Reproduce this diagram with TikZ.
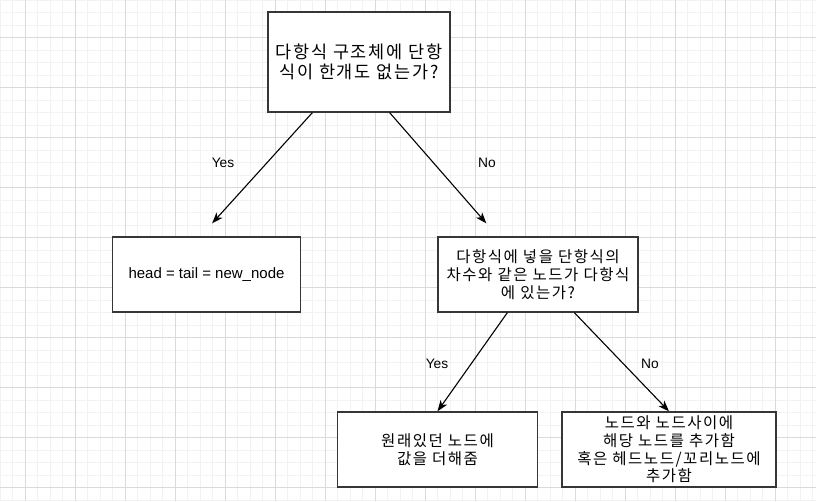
\documentclass[tikz,border=0pt]{standalone}
\usepackage{fontspec}
\setmainfont{Liberation Sans}
\newfontfamily\kr[LetterSpace=10]{Noto Sans CJK KR}
\usetikzlibrary{arrows.meta}
\definecolor{gridminor}{HTML}{F2F2F2}
\definecolor{gridmajor}{HTML}{DADADA}
\definecolor{boxline}{HTML}{363636}
\begin{document}
\begin{tikzpicture}[x=1pt, y=-1pt]
        % Common Styles
        \tikzset{question/.style={draw=boxline, line width=1.3pt, fill=white, rectangle, inner sep=0pt, align=center}}
        \tikzset{result/.style={question}}
        \tikzset{flow/.style={-{Stealth[length=11pt, width=8pt, inset=3pt]}, line width=1.1pt}}
        \tikzset{answer/.style={font=\fontsize{13.75}{16}\selectfont, inner sep=0pt}}

        % Background grid
        \fill[white] (0, 0) rectangle (816, 501);
        \useasboundingbox (0, 0) rectangle (816, 501);
        \foreach \gx in {0, 12.5, ..., 816} {\draw[gridminor, line width=0.8pt] (\gx, 0) -- (\gx, 501);}
        \foreach \gy in {0, 12.5, ..., 501} {\draw[gridminor, line width=0.8pt] (0, \gy) -- (816, \gy);}
        \foreach \gx in {25, 75, ..., 816} {\draw[gridmajor, line width=0.8pt] (\gx, 0) -- (\gx, 501);}
        \foreach \gy in {37.5, 87.5, ..., 501} {\draw[gridmajor, line width=0.8pt] (0, \gy) -- (816, \gy);}

        % 1. First question
        \node[question, minimum width=182pt, minimum height=100pt, font=\kr\fontsize{17.5}{20.5}\selectfont] (q1) at (359, 62) {다항식 구조체에 단항\\식이 한개도 없는가?};

        % 2. Empty list
        \node[result, minimum width=187.5pt, minimum height=75pt, font=\fontsize{15}{18}\selectfont] (r1) at (206.5, 274.5) {head = tail = new\_node};

        % 3. Second question
        \node[question, minimum width=200pt, minimum height=75pt, font=\kr\fontsize{15.5}{18.3}\selectfont] (q2) at (538, 274.5) {다항식에 넣을 단항식의\\차수와 같은 노드가 다항식\\에 있는가?};

        % 4. Add to existing node
        \node[result, minimum width=200pt, minimum height=75pt, font=\kr\fontsize{15.5}{18.3}\selectfont] (r2) at (437.5, 449.5) {원래있던 노드에\\값을 더해줌};

        % 5. Insert a new node
        \node[result, minimum width=214pt, minimum height=75pt, font=\kr\fontsize{15.5}{17.7}\selectfont] (r3) at (669, 449.5) {노드와 노드사이에\\해당 노드를 추가함\\혹은 헤드노드/꼬리노드에\\추가함};

        % Connectors
        \draw[flow] ([xshift=45pt]q1.south west) -- ([xshift=100pt, yshift=13pt]r1.north west);
        \draw[flow] ([xshift=-61pt]q1.south east) -- ([xshift=49pt, yshift=13pt]q2.north west);
        \draw[flow] ([xshift=70pt]q2.south west) -- (r2.north);
        \draw[flow] ([xshift=137pt]q2.south west) -- (r3.north);

        % Labels
        \node[answer] (yes1) at (223, 163) {Yes};
        \node[answer] (no1) at (487, 163) {No};
        \node[answer] (yes2) at (437, 364) {Yes};
        \node[answer] (no2) at (650, 364) {No};
    \end{tikzpicture}
\end{document}
